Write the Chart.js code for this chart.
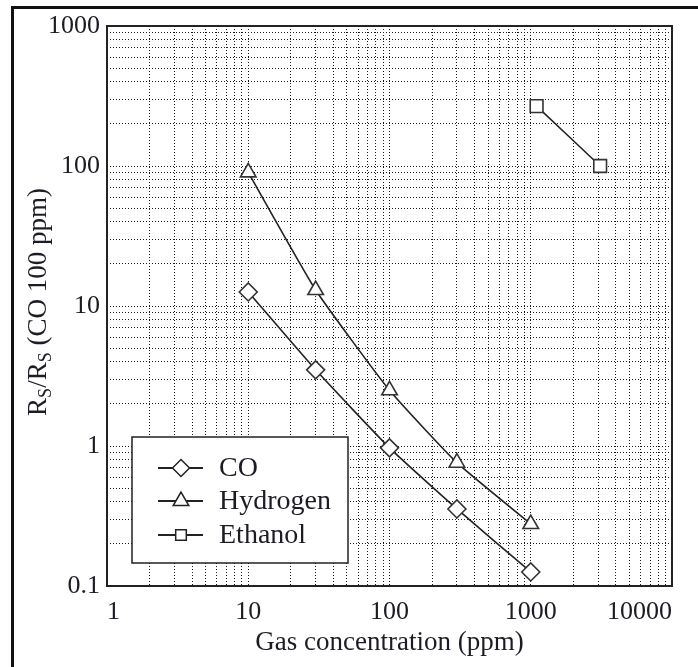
<!DOCTYPE html>
<html>
<head>
<meta charset="utf-8">
<script src="https://cdn.jsdelivr.net/npm/chart.js@4.4.0/dist/chart.umd.min.js"></script>
<style>
  html, body { margin: 0; padding: 0; background: #fff; }
  #wrap { width: 698px; height: 667px; }
</style>
</head>
<body>
<div id="wrap"><canvas id="chart" width="698" height="667"></canvas></div>
<script>
// Values (log-log sensor response)
const coX = [10, 30, 100, 300, 1000];
const coY = [12.6, 3.5, 0.97, 0.355, 0.126];
const h2X = [10, 30, 100, 300, 1000];
const h2Y = [90, 13, 2.5, 0.76, 0.277];
const ethX = [1100, 3100];
const ethY = [268, 100];

const seriesNames = ['CO', 'Hydrogen', 'Ethanol'];
const seriesStyles = ['rectRot', 'triangle', 'rect'];

// Tick positions: 1..9 in every decade, labels only on powers of ten
const xDecades = [1, 10, 100, 1000];
const yDecades = [0.1, 1, 10, 100];
const xMax = 10000;
const yMax = 1000;

const serif = "'Liberation Serif', 'DejaVu Serif', serif";
const inkColor = '#1c1c24';

function decadeTicks(decades, last) {
    const out = [];
    decades.forEach(d => {
        for (let k = 1; k <= 9; k++) out.push(+(d * k).toPrecision(6));
    });
    out.push(last);
    return out;
}

function isDecade(v) {
    const l = Math.log10(v);
    return Math.abs(l - Math.round(l)) < 1e-9;
}

const xTicks = decadeTicks(xDecades, xMax);
const yTicks = decadeTicks(yDecades, yMax);

function toPoints(xs, ys) {
    return xs.map((x, i) => ({ x: x, y: ys[i] }));
}

/**
 * Page frame, plot frame, axis titles and the boxed legend
 */
const framePlugin = {
    id: 'frame',
    beforeDraw(chart) {
        const ctx = chart.ctx;
        ctx.save();
        ctx.fillStyle = '#fff';
        ctx.fillRect(0, 0, chart.width, chart.height);
        ctx.strokeStyle = '#111';
        ctx.lineWidth = 3;
        ctx.beginPath();
        ctx.moveTo(12.5, chart.height);
        ctx.lineTo(12.5, 7.5);
        ctx.lineTo(chart.width, 7.5);
        ctx.stroke();
        ctx.restore();
    },
    afterDraw(chart) {
        const ctx = chart.ctx;
        const a = chart.chartArea;
        ctx.save();
        ctx.strokeStyle = '#222';
        ctx.lineWidth = 2;
        ctx.strokeRect(a.left, a.top, a.right - a.left, a.bottom - a.top);

        // x axis title
        ctx.fillStyle = inkColor;
        ctx.font = '27px ' + serif;
        ctx.textAlign = 'center';
        ctx.textBaseline = 'middle';
        ctx.fillText('Gas concentration (ppm)', (a.left + a.right) / 2, 643);

        // y axis title with subscripts
        const parts = [
            ['R', 27, 0], ['S', 18, 5], ['/R', 27, 0], ['S', 18, 5], [' (CO 100 ppm)', 27, 0]
        ];
        let total = 0;
        parts.forEach(p => { ctx.font = p[1] + 'px ' + serif; total += ctx.measureText(p[0]).width; });
        ctx.translate(37, 302);
        ctx.rotate(-Math.PI / 2);
        ctx.textAlign = 'left';
        ctx.textBaseline = 'alphabetic';
        let cx = -total / 2;
        parts.forEach(p => {
            ctx.font = p[1] + 'px ' + serif;
            ctx.fillText(p[0], cx, 9 + p[2]);
            cx += ctx.measureText(p[0]).width;
        });
        ctx.restore();
    },
    afterDatasetsDraw(chart) {
        const ctx = chart.ctx;
        const box = { x: 132, y: 437, w: 216, h: 126 };
        ctx.save();
        ctx.fillStyle = '#fff';
        ctx.fillRect(box.x, box.y, box.w, box.h);
        ctx.strokeStyle = '#222';
        ctx.lineWidth = 1.5;
        ctx.strokeRect(box.x, box.y, box.w, box.h);

        const rowY = [468, 501, 535];
        const radii = [8.5, 9, 7.5];
        chart.data.datasets.forEach((ds, i) => {
            const y = rowY[i];
            ctx.strokeStyle = ds.borderColor;
            ctx.lineWidth = 2;
            ctx.beginPath();
            ctx.moveTo(158, y);
            ctx.lineTo(203, y);
            ctx.stroke();
            ctx.fillStyle = '#fff';
            ctx.lineWidth = 1.5;
            Chart.helpers.drawPoint(ctx, {
                pointStyle: ds.pointStyle, radius: radii[i], borderWidth: 1.5, rotation: 0
            }, 181, y);
            ctx.fillStyle = inkColor;
            ctx.font = '28px ' + serif;
            ctx.textAlign = 'left';
            ctx.textBaseline = 'middle';
            ctx.fillText(ds.label, 219, y + 1);
        });
        ctx.restore();
    }
};

function makeDataset(i, xs, ys) {
    return {
        label: seriesNames[i],
        data: toPoints(xs, ys),
        borderColor: '#222',
        borderWidth: 1.6,
        backgroundColor: '#fff',
        pointStyle: seriesStyles[i],
        pointRadius: 9,
        pointBorderWidth: 1.6,
        pointBackgroundColor: '#fff',
        pointBorderColor: '#333',
        tension: 0.15,
        fill: false
    };
}

function axisOptions(ticks, min, max, isX) {
    return {
        type: 'logarithmic',
        min: min,
        max: max,
        afterBuildTicks(scale) {
            scale.ticks = ticks.map(v => ({ value: v, major: isDecade(v) }));
        },
        afterFit(scale) {
            if (isX) {
                scale.height = 81;
                scale.paddingLeft = 0;
                scale.paddingRight = 0;
            } else {
                scale.width = 107;
                scale.paddingTop = 0;
                scale.paddingBottom = 0;
            }
        },
        ticks: {
            autoSkip: false,
            maxRotation: 0,
            align: isX ? 'inner' : 'center',
            padding: isX ? 11 : 7,
            color: inkColor,
            font: { family: serif, size: 26 },
            callback: v => isDecade(v) ? String(v) : ''
        },
        grid: {
            color: '#1a1a1a',
            lineWidth: 1,
            drawTicks: false
        },
        border: { display: false, dash: [1, 2] },
        title: { display: false }
    };
}

new Chart(document.getElementById('chart'), {
    type: 'line',
    data: {
        datasets: [
            makeDataset(0, coX, coY),
            makeDataset(1, h2X, h2Y),
            makeDataset(2, ethX, ethY)
        ]
    },
    options: {
        responsive: false,
        devicePixelRatio: 1,
        animation: false,
        layout: { padding: { top: 26, right: 26, left: 0, bottom: 0 } },
        scales: {
            x: axisOptions(xTicks, 1, xMax, true),
            y: axisOptions(yTicks, 0.1, yMax, false)
        },
        plugins: {
            legend: { display: false },
            tooltip: { enabled: false }
        }
    },
    plugins: [framePlugin]
});
</script>
</body>
</html>
